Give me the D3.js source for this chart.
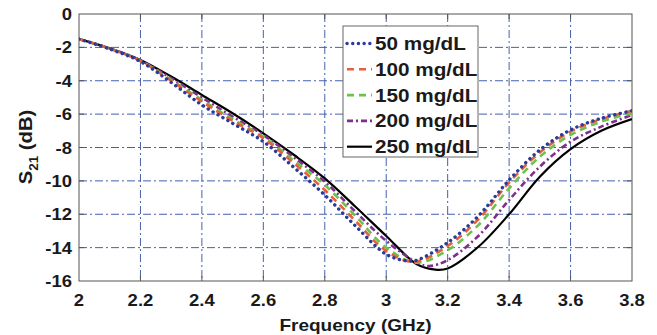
<!DOCTYPE html>
<html>
<head>
<meta charset="utf-8">
<script src="https://cdn.jsdelivr.net/npm/d3@7"></script>
<style>
  body { margin: 0; background: #fff; }
  text { font-family: "Liberation Sans", Arial, sans-serif; font-weight: bold; fill: #1a1a1a; }
</style>
</head>
<body>
<div id="chart"></div>
<script>
// frequency points (GHz) for each concentration
const freq50  = [2.0, 2.1, 2.2, 2.3, 2.4, 2.5, 2.6, 2.7, 2.8, 2.9, 3.0, 3.07, 3.1, 3.2, 3.3, 3.4, 3.5, 3.6, 3.7, 3.8];
const s21_50  = [-1.5, -2.1, -2.85, -4.1, -5.45, -6.55, -7.65, -9.2, -10.85, -12.7, -14.4, -14.8, -14.75, -13.7, -12.1, -9.95, -8.15, -6.95, -6.25, -5.8];

const freq100 = [2.0, 2.1, 2.2, 2.3, 2.4, 2.5, 2.6, 2.7, 2.8, 2.9, 3.0, 3.09, 3.2, 3.3, 3.4, 3.5, 3.6, 3.7, 3.8];
const s21_100 = [-1.5, -2.08, -2.82, -4.0, -5.25, -6.4, -7.45, -8.95, -10.55, -12.4, -14.2, -14.85, -13.9, -12.3, -10.1, -8.3, -7.05, -6.3, -5.8];

const freq150 = [2.0, 2.1, 2.2, 2.3, 2.4, 2.5, 2.6, 2.7, 2.8, 2.9, 3.0, 3.1, 3.2, 3.3, 3.4, 3.5, 3.6, 3.7, 3.8];
const s21_150 = [-1.5, -2.07, -2.8, -3.95, -5.15, -6.3, -7.35, -8.8, -10.25, -12.1, -14.0, -14.9, -14.15, -12.65, -10.45, -8.55, -7.25, -6.45, -5.95];

const freq200 = [2.0, 2.1, 2.2, 2.3, 2.4, 2.5, 2.6, 2.7, 2.8, 2.9, 3.0, 3.1, 3.14, 3.2, 3.3, 3.4, 3.5, 3.6, 3.7, 3.8];
const s21_200 = [-1.5, -2.06, -2.78, -3.85, -5.0, -6.15, -7.25, -8.6, -10.05, -11.85, -13.6, -14.9, -15.1, -14.75, -13.3, -11.15, -9.15, -7.65, -6.75, -6.05];

const freq250 = [2.0, 2.1, 2.2, 2.3, 2.4, 2.5, 2.6, 2.7, 2.8, 2.9, 3.0, 3.1, 3.16, 3.2, 3.3, 3.4, 3.5, 3.6, 3.7, 3.8];
const s21_250 = [-1.5, -2.05, -2.75, -3.75, -4.85, -5.95, -7.15, -8.45, -9.85, -11.55, -13.3, -15.0, -15.32, -15.25, -13.95, -12.0, -9.75, -8.1, -7.0, -6.3];

const legendLabels = ["50 mg/dL", "100 mg/dL", "150 mg/dL", "200 mg/dL", "250 mg/dL"];
const xTicks = [2, 2.2, 2.4, 2.6, 2.8, 3, 3.2, 3.4, 3.6, 3.8];
const yTicks = [0, -2, -4, -6, -8, -10, -12, -14, -16];

const width = 657, height = 335;
const margin = { top: 14, right: 25, bottom: 54, left: 79 };
const innerW = 632 - margin.left;
const innerH = 281 - margin.top;
const sx = 1.12; // horizontal stretch of the text in the reference

const svg = d3.select("#chart").append("svg")
  .attr("width", width)
  .attr("height", height);

const g = svg.append("g")
  .attr("transform", "translate(" + margin.left + "," + margin.top + ")");

const x = d3.scaleLinear().domain([2, 3.8]).range([0, innerW]);
const y = d3.scaleLinear().domain([-16, 0]).range([innerH, 0]);

// grid
const gridColor = "#4560ad";
g.append("g").selectAll("line")
  .data(xTicks.slice(1, -1))
  .join("line")
  .attr("x1", d => x(d)).attr("x2", d => x(d))
  .attr("y1", 0).attr("y2", innerH)
  .attr("stroke", gridColor).attr("stroke-width", 1)
  .attr("stroke-dasharray", "8 3 2 3");
g.append("g").selectAll("line")
  .data(yTicks.slice(1, -1))
  .join("line")
  .attr("y1", d => y(d)).attr("y2", d => y(d))
  .attr("x1", 0).attr("x2", innerW)
  .attr("stroke", gridColor).attr("stroke-width", 1)
  .attr("stroke-dasharray", "8 3 2 3");

// box + inward ticks
const boxColor = "#555";
g.append("rect").attr("width", innerW).attr("height", innerH)
  .attr("fill", "none").attr("stroke", boxColor).attr("stroke-width", 1);
const tl = 5;
xTicks.slice(1, -1).forEach(t => {
  g.append("line").attr("x1", x(t)).attr("x2", x(t)).attr("y1", innerH).attr("y2", innerH - tl).attr("stroke", boxColor);
  g.append("line").attr("x1", x(t)).attr("x2", x(t)).attr("y1", 0).attr("y2", tl).attr("stroke", boxColor);
});
yTicks.slice(1, -1).forEach(t => {
  g.append("line").attr("y1", y(t)).attr("y2", y(t)).attr("x1", 0).attr("x2", tl).attr("stroke", boxColor);
  g.append("line").attr("y1", y(t)).attr("y2", y(t)).attr("x1", innerW).attr("x2", innerW - tl).attr("stroke", boxColor);
});

// tick labels
xTicks.forEach(t => {
  g.append("text")
    .attr("transform", "translate(" + x(t) + "," + (innerH + 25) + ") scale(" + sx + ",1)")
    .attr("text-anchor", "middle")
    .attr("font-size", 16.5)
    .text(d3.format("~g")(t));
});
yTicks.forEach(t => {
  g.append("text")
    .attr("transform", "translate(-7," + (y(t) + 6) + ") scale(" + sx + ",1)")
    .attr("text-anchor", "end")
    .attr("font-size", 16.5)
    .text(t);
});

// axis titles
svg.append("text")
  .attr("transform", "translate(" + (margin.left + innerW / 2) + ",331) scale(" + sx + ",1)")
  .attr("text-anchor", "middle")
  .attr("font-size", 17)
  .text("Frequency (GHz)");

const yl = svg.append("text")
  .attr("transform", "translate(32,147) rotate(-90) scale(" + sx + ",1)")
  .attr("text-anchor", "middle")
  .attr("font-size", 18);
yl.append("tspan").text("S");
yl.append("tspan").attr("font-size", 12).attr("dy", 6).text("21");
yl.append("tspan").attr("dy", -6).text(" (dB)");

// curves
const series = [
  { f: freq250, v: s21_250, color: "#000000", dash: null, w: 2.2, cap: "butt" },
  { f: freq200, v: s21_200, color: "#7e2f8e", dash: "6 3 2 3", w: 2.6, cap: "butt" },
  { f: freq150, v: s21_150, color: "#6cc24a", dash: "7 5", w: 2.6, cap: "butt" },
  { f: freq100, v: s21_100, color: "#e5603b", dash: "7 5", w: 2.6, cap: "butt" },
  { f: freq50,  v: s21_50,  color: "#2b3c98", dash: "0.1 5.6", w: 3.4, cap: "round" }
];

g.append("clipPath").attr("id", "clip")
  .append("rect").attr("width", innerW).attr("height", innerH);

const line = d3.line()
  .x(d => x(d[0]))
  .y(d => y(d[1]))
  .curve(d3.curveCatmullRom.alpha(0.5));

const plot = g.append("g").attr("clip-path", "url(#clip)");
series.forEach(s => {
  plot.append("path")
    .datum(d3.zip(s.f, s.v))
    .attr("d", line)
    .attr("fill", "none")
    .attr("stroke", s.color)
    .attr("stroke-width", s.w)
    .attr("stroke-linecap", s.cap)
    .attr("stroke-dasharray", s.dash);
});

// legend
const legendOrder = series.slice().reverse();
const lg = svg.append("g").attr("transform", "translate(343,26)");
lg.append("rect").attr("width", 135).attr("height", 131)
  .attr("fill", "#fff").attr("stroke", "#666").attr("stroke-width", 1);
legendOrder.forEach((s, i) => {
  const cy = 17.5 + i * 25.8;
  lg.append("line")
    .attr("x1", 4).attr("x2", 29).attr("y1", cy).attr("y2", cy)
    .attr("stroke", s.color).attr("stroke-width", s.w)
    .attr("stroke-linecap", s.cap)
    .attr("stroke-dasharray", s.dash);
  lg.append("text")
    .attr("transform", "translate(32," + (cy + 6.5) + ") scale(" + sx + ",1)")
    .attr("font-size", 18.5)
    .text(legendLabels[i]);
});
</script>
</body>
</html>
